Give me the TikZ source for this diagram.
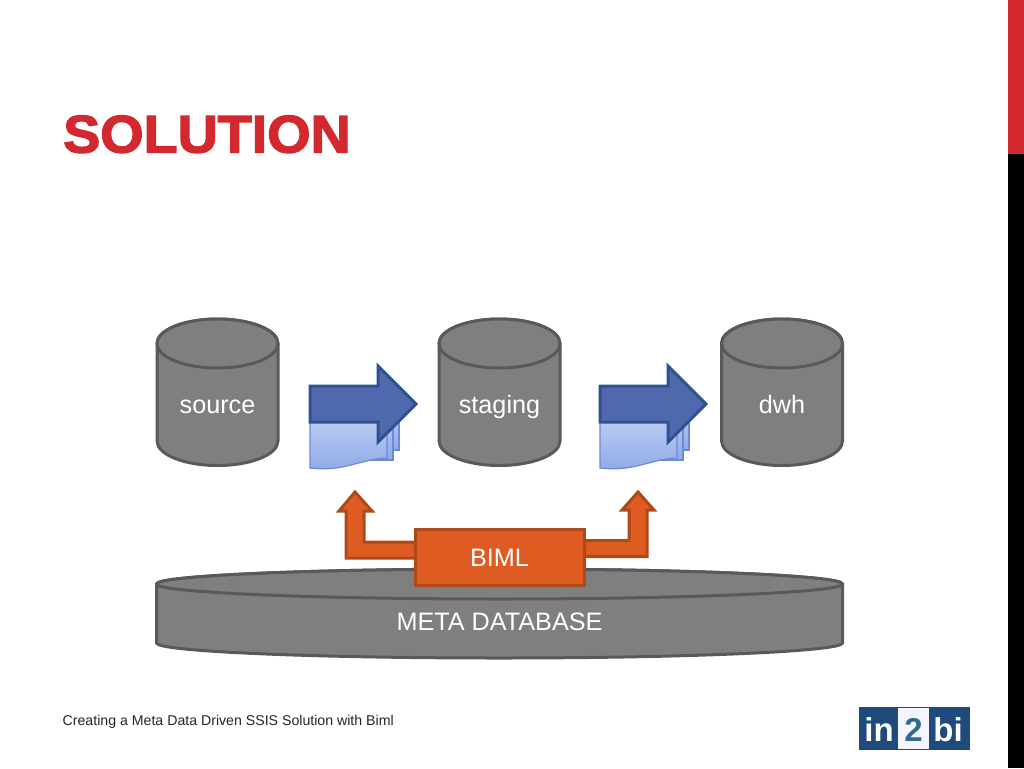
\documentclass[tikz,border=0pt]{standalone}
\usepackage{fontspec}
\setmainfont{Liberation Sans}
\newfontfamily\titlefont[FakeBold=2.6,FakeStretch=1.05]{Liberation Sans Bold}
\newfontfamily\logofont{Liberation Sans Bold}
\definecolor{cylfill}{HTML}{7F7F7F}
\definecolor{cylline}{HTML}{595959}
\definecolor{brandred}{HTML}{D2282E}
\definecolor{arrowfill}{HTML}{5069AE}
\definecolor{arrowline}{HTML}{2F528F}
\definecolor{docline}{HTML}{6C8AD8}
\definecolor{doctop}{HTML}{D2DDF7}
\definecolor{docbot}{HTML}{8FA9E9}
\definecolor{orangefill}{HTML}{DE5C22}
\definecolor{orangeline}{HTML}{AE4A1A}
\definecolor{logoblue}{HTML}{1F4A7C}
\definecolor{logotwo}{HTML}{2F6B8F}
\tikzset{
  cyl/.style={fill=cylfill,draw=cylline,line width=3pt,line join=round},
  cyllabel/.style={text=white,font=\fontsize{25.2}{28}\selectfont,inner sep=0pt},
  flowarrow/.style={fill=arrowfill,draw=arrowline,line width=3pt,line join=miter},
  docpage/.style={top color=doctop,bottom color=docbot,draw=docline,line width=1.2pt},
  orangeshape/.style={fill=orangefill,draw=orangeline,line width=3pt,line join=miter},
}
% #1 centre x, #2 half width, #3 top-ellipse y, #4 bottom-arc y, #5 ry
\newcommand{\drumshape}[5]{%
  \path[cyl] (#1-#2,#3) -- (#1-#2,#4) arc[start angle=180,end angle=360,x radius=#2,y radius=-#5] -- (#1+#2,#3) arc[start angle=0,end angle=180,x radius=#2,y radius=-#5] -- cycle;
  \path[cyl] (#1,#3) ellipse[x radius=#2,y radius=#5];
}
% #1 x offset
\newcommand{\docflow}[1]{%
  \begin{scope}[xshift=#1pt]
  \foreach \d/\b in {12/450,6/460}{
    \path[docpage] (310+\d,392) -- (387+\d,392) -- (387+\d,\b) -- (310+\d,\b) -- cycle;
  }
  \path[docpage] (310,392) -- (387,392) -- (387,458) .. controls (360,459) and (345,472) .. (310,468) -- cycle;
  \path[flowarrow] (310,386) -- (378,386) -- (378,366) -- (416,404) -- (378,442) -- (378,422) -- (310,422) -- cycle;
  \end{scope}
}
\begin{document}
\begin{tikzpicture}[x=1pt,y=-1pt]
\useasboundingbox (0,0) rectangle (1024,768);
\fill[white] (0,0) rectangle (1024,768);
\fill[black] (1008,0) rectangle (1024,768);
\fill[brandred] (1008,0) rectangle (1024,153.5);
\node[anchor=base west,inner sep=0pt,text=brandred,font=\titlefont\fontsize{53}{58}\selectfont] (title) at (63,152.5) {SOLUTION};

\drumshape{217.5}{60.5}{343.5}{441}{24.5}
\drumshape{499.5}{60.5}{343.5}{441}{24.5}
\drumshape{782}{60.5}{343.5}{441}{24.5}
\node[cyllabel,anchor=base] (source) at (217.5,413.5) {source};
\node[cyllabel,anchor=base] (staging) at (499.5,413.5) {staging};
\node[cyllabel,anchor=base] (dwh) at (782,413.5) {dwh};

\docflow{0}
\docflow{290}

\drumshape{499.5}{343}{584}{643}{15}
\node[cyllabel,anchor=base] (meta) at (499.5,630.5) {META DATABASE};

\path[orangeshape] (416,542) -- (364,542) -- (364,511) -- (372,511) -- (355,492) -- (339,511) -- (346,511) -- (346,558) -- (416,558) -- cycle;
\path[orangeshape] (584,540.5) -- (629,540.5) -- (629,510) -- (622,510) -- (638,492) -- (654,510) -- (647,510) -- (647,556.5) -- (584,556.5) -- cycle;
\node[orangeshape,text=white,font=\fontsize{25.2}{28}\selectfont,minimum width=169pt,minimum height=56pt,inner sep=0pt,anchor=north west] (biml) at (413.5,528) {BIML};

\node[anchor=base west,inner sep=0pt,font=\fontsize{14.15}{16}\selectfont,text=black!85] (footer) at (62.5,725) {Creating a Meta Data Driven SSIS Solution with Biml};

\fill[logoblue] (859,707) rectangle (969.5,749.5);
\fill[white!96!blue] (898,707.5) rectangle (929,748.5);
\node[anchor=base,inner sep=0pt,text=white,font=\logofont\fontsize{33}{36}\selectfont] (logoin) at (879,741) {in};
\node[anchor=base,inner sep=0pt,text=logotwo,font=\logofont\fontsize{33}{36}\selectfont] (logo2) at (913.5,741) {2};
\node[anchor=base,inner sep=0pt,text=white,font=\logofont\fontsize{33}{36}\selectfont] (logobi) at (948,741) {bi};
\end{tikzpicture}
\end{document}
